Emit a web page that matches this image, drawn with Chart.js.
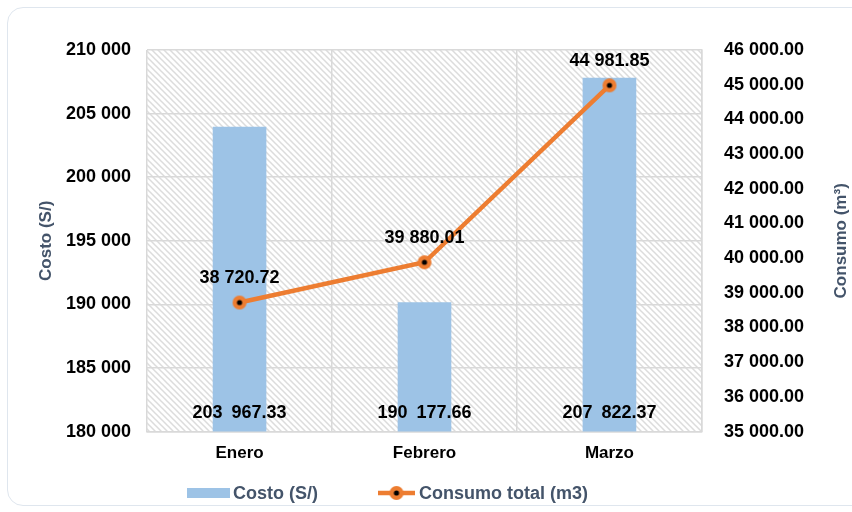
<!DOCTYPE html>
<html>
<head>
<meta charset="utf-8">
<script src="https://cdn.jsdelivr.net/npm/chart.js@4"></script>
<style>
  html, body { margin: 0; padding: 0; background: #fff; }
  body { width: 852px; height: 512px; overflow: hidden; position: relative; }
  #card {
    position: absolute; left: 7px; top: 7px; width: 880px; height: 499px;
    border: 1.5px solid #dfe6ee; border-radius: 16px; box-sizing: border-box;
  }
  #wrap { position: absolute; left: 0; top: 0; width: 852px; height: 512px; }
  #legend {
    position: absolute; left: 187px; top: 482px; height: 22px;
    display: flex; align-items: center;
    font: bold 18px 'Liberation Sans', Arial, sans-serif; color: #44546a;
  }
  #legend canvas { display: block; }
</style>
</head>
<body>
<div id="card"></div>
<div id="wrap"><canvas id="myChart" width="852" height="512"></canvas></div>
<div id="legend"></div>
<script>
"use strict";

const months = ['Enero', 'Febrero', 'Marzo'];
const costo = [203967.33, 190177.66, 207822.37];
const consumo = [38720.72, 39880.01, 44981.85];

const costoTicks = [180000, 210000, 5000];
const consumoTicks = [35000, 46000, 1000];

const FONT = "'Liberation Sans', Arial, sans-serif";
const BLUE = '#9dc3e6';
const ORANGE = '#ed7d31';
const SLATE = '#44546a';

// 203 967.33 style numbers
const fmt = (v, dec, sep) => {
  let parts = v.toFixed(dec).split('.');
  let int = parts[0].replace(/\B(?=(\d{3})+(?!\d))/g, sep || ' ');
  return parts.length > 1 ? int + '.' + parts[1] : int;
}

const makeMarker = () => {
  let c = document.createElement('canvas');
  c.width = 16; c.height = 16;
  let g = c.getContext('2d');
  g.fillStyle = ORANGE;
  g.beginPath(); g.arc(8, 8, 7, 0, Math.PI * 2); g.fill();
  g.fillStyle = '#000';
  g.beginPath(); g.arc(8, 8, 2.6, 0, Math.PI * 2); g.fill();
  return c;
}

const makeLineLegend = () => {
  let c = document.createElement('canvas');
  c.width = 37; c.height = 16;
  let g = c.getContext('2d');
  g.strokeStyle = ORANGE; g.lineWidth = 4.5;
  g.beginPath(); g.moveTo(0, 8); g.lineTo(37, 8); g.stroke();
  g.drawImage(makeMarker(), 10.5, 0);
  return c;
}

const makeBarLegend = () => {
  let c = document.createElement('canvas');
  c.width = 43; c.height = 10;
  let g = c.getContext('2d');
  g.fillStyle = BLUE;
  g.fillRect(0, 0, 43, 10);
  return c;
}

const makeHatch = () => {
  let c = document.createElement('canvas');
  c.width = 6; c.height = 6;
  let g = c.getContext('2d');
  g.fillStyle = '#fff';
  g.fillRect(0, 0, 6, 6);
  g.strokeStyle = '#dcdcdc';
  g.lineWidth = 1.5;
  g.beginPath();
  g.moveTo(-1, -1); g.lineTo(7, 7);
  g.moveTo(-4, 2); g.lineTo(4, 10);
  g.moveTo(2, -4); g.lineTo(10, 4);
  g.stroke();
  return c;
}

const hatchPlugin = {
  id: 'hatch',
  beforeDraw: (chart) => {
    const {ctx, chartArea} = chart;
    ctx.save();
    ctx.fillStyle = ctx.createPattern(makeHatch(), 'repeat');
    ctx.fillRect(chartArea.left, chartArea.top, chartArea.right - chartArea.left, chartArea.bottom - chartArea.top);
    ctx.restore();
  }
}

// both axis titles read bottom to top, like the original
const titlePlugin = {
  id: 'axisTitles',
  afterDraw: (chart) => {
    const ctx = chart.ctx;
    const mid = (chart.chartArea.top + chart.chartArea.bottom) / 2;
    ctx.save();
    ctx.font = 'bold 17px ' + FONT;
    ctx.fillStyle = SLATE;
    ctx.textAlign = 'center';
    ctx.textBaseline = 'middle';
    [[46, 'Costo (S/)'], [841, 'Consumo (m\u00b3)']].forEach((t) => {
      ctx.save();
      ctx.translate(t[0], mid);
      ctx.rotate(-Math.PI / 2);
      ctx.fillText(t[1], 0, 0);
      ctx.restore();
    });
    ctx.restore();
  }
}

const labelPlugin = {
  id: 'valueLabels',
  afterDatasetsDraw: (chart) => {
    const ctx = chart.ctx;
    ctx.save();
    ctx.font = 'bold 18px ' + FONT;
    ctx.fillStyle = '#000';
    ctx.textAlign = 'center';
    ctx.textBaseline = 'middle';
    chart.getDatasetMeta(0).data.forEach((bar, i) => {
      ctx.fillText(fmt(costo[i], 2, '\u2002'), bar.x, chart.chartArea.bottom - 19);
    });
    chart.getDatasetMeta(1).data.forEach((pt, i) => {
      ctx.fillText(fmt(consumo[i], 2), pt.x, pt.y - 24);
    });
    ctx.restore();
  }
}

const ctx = document.getElementById('myChart').getContext('2d');
const myChart = new Chart(ctx, {
  type: 'bar',
  data: {
    labels: months,
    datasets: [{
      label: 'Costo (S/)',
      data: costo,
      yAxisID: 'y',
      backgroundColor: BLUE,
      barPercentage: 0.29,
      categoryPercentage: 1,
      order: 1
    }, {
      type: 'line',
      label: 'Consumo total (m3)',
      data: consumo,
      yAxisID: 'y2',
      borderColor: ORANGE,
      backgroundColor: ORANGE,
      borderWidth: 4.5,
      pointStyle: makeMarker(),
      tension: 0,
      order: 0
    }]
  },
  options: {
    responsive: false,
    animation: false,
    layout: { padding: { left: 50, right: 26, top: 50, bottom: 36 } },
    plugins: {
      tooltip: { enabled: false },
      legend: { display: false }
    },
    scales: {
      x: {
        grid: { color: '#d9d9d9', lineWidth: 1.5, drawTicks: false },
        border: { color: '#d9d9d9', width: 1.5 },
        ticks: { color: '#000', padding: 12, font: { family: FONT, size: 17, weight: 'bold' } }
      },
      y: {
        position: 'left',
        min: costoTicks[0],
        max: costoTicks[1],
        grid: { color: '#d9d9d9', lineWidth: 1.5, drawTicks: false },
        border: { display: false },
        ticks: {
          stepSize: costoTicks[2],
          padding: 16,
          color: '#000',
          font: { family: FONT, size: 18, weight: 'bold' },
          callback: (v) => fmt(v, 0)
        }
      },
      y2: {
        position: 'right',
        min: consumoTicks[0],
        max: consumoTicks[1],
        grid: { drawOnChartArea: false, drawTicks: false },
        border: { color: '#d9d9d9', width: 1.5 },
        ticks: {
          stepSize: consumoTicks[2],
          padding: 22,
          color: '#000',
          font: { family: FONT, size: 18, weight: 'bold' },
          callback: (v) => fmt(v, 2)
        }
      }
    }
  },
  plugins: [hatchPlugin, labelPlugin, titlePlugin]
});

// legend as plain html under the chart
const legendIcons = [makeBarLegend(), makeLineLegend()];
const legendGaps = [[0, 3], [60, 4]];
const legendBox = document.getElementById('legend');
myChart.data.datasets.forEach((ds, i) => {
  let icon = legendIcons[i];
  icon.style.marginLeft = legendGaps[i][0] + 'px';
  icon.style.marginRight = legendGaps[i][1] + 'px';
  let text = document.createElement('span');
  text.innerText = ds.label;
  legendBox.append(icon);
  legendBox.append(text);
});
</script>
</body>
</html>
